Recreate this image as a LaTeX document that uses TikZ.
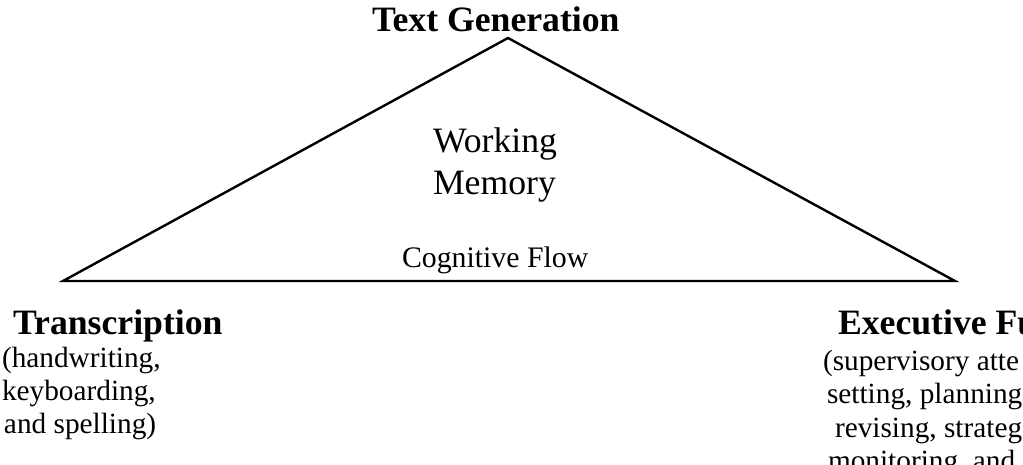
\documentclass[tikz,border=0pt]{standalone}
\usepackage{fontspec}
\setmainfont{Liberation Serif}
\begin{document}
\begin{tikzpicture}[x=1pt,y=-1pt,
  lbl/.style={anchor=base west,inner sep=0pt,outer sep=0pt},
  big/.style={lbl,font=\fontsize{35.7}{42}\selectfont},
  bigb/.style={lbl,font=\fontsize{35.7}{42}\selectfont\bfseries},
  mid/.style={lbl,font=\fontsize{29.8}{33}\selectfont},
  small/.style={lbl,font=\fontsize{29.3}{33}\selectfont},
  edge/.style={line width=2.4pt,line join=miter}]
\useasboundingbox (0,0) rectangle (1023,465);
\clip (0,0) rectangle (1023,465);
\coordinate (apex) at (508,38);
\coordinate (left) at (63,281);
\coordinate (right) at (955,281);
\draw[edge] (left) -- (apex) -- (right) -- cycle;
\node[bigb] (tg) at (372,32) {Text Generation};
\node[big] (wm1) at (433,153) {Working};
\node[big] (wm2) at (433,195) {Memory};
\node[mid] (cf) at (402,267) {Cognitive Flow};
\node[bigb] (tr) at (13,334) {Transcription};
\node[small] (tr1) at (2,367) {(handwriting,};
\node[small] (tr2) at (2,400) {keyboarding,};
\node[small] (tr3) at (4,433) {and spelling)};
\node[bigb] (ef) at (838,334) {Executive Fu};
\node[small] (ef1) at (823,370) {(supervisory atte};
\node[small] (ef2) at (827,403) {setting, planning};
\node[small] (ef3) at (835,437) {revising, strateg};
\node[small] (ef4) at (828,470) {monitoring, and};
\end{tikzpicture}
\end{document}
